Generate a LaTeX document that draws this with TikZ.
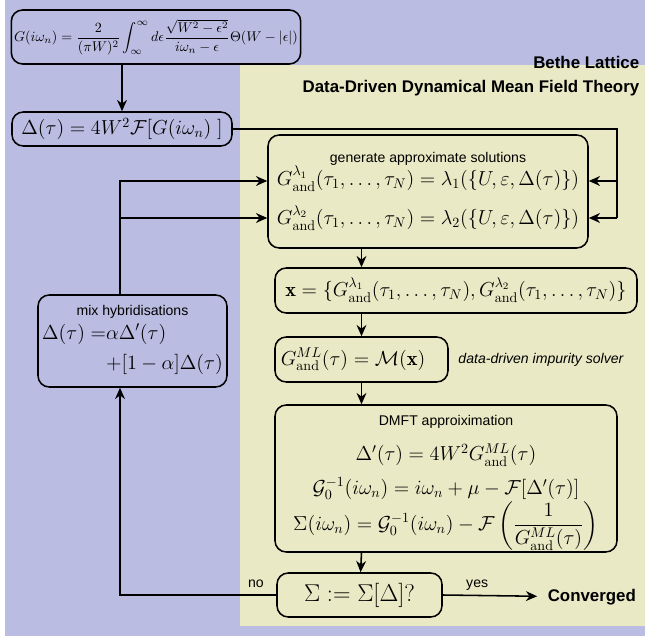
\documentclass[tikz,border=0pt]{standalone}
\usepackage{amsmath}
\usepackage{fontspec}
\setsansfont{Liberation Sans}
\usetikzlibrary{positioning,arrows.meta}
\definecolor{bethebg}{RGB}{186,188,225}
\definecolor{dmftbg}{RGB}{233,233,197}
\newcommand{\boxtitle}[1]{{\normalsize\sffamily #1}}
\newcommand{\Gand}[1]{G^{#1}_{\mathrm{and}}}

\begin{document}
\begin{tikzpicture}[x=0.025cm, y=-0.025cm, line width=1.1pt,
  >={Stealth[length=8pt,width=7pt]},
  stage/.style 2 args={draw, rounded corners=8pt, minimum width={#1*0.025cm},
               minimum height={#2*0.025cm}, align=center, inner sep=2pt, font=\Large},
  tag/.style={font=\sffamily},
  head/.style={font=\sffamily\bfseries\large, inner sep=0pt}
]
  \useasboundingbox (0,0) rectangle (645,642);
  \fill[bethebg] (5,0) rectangle (645,636);
  \fill[dmftbg] (240,65) rectangle (645,626);

  \node[head, anchor=east] (bethe) at (640,62) {Bethe Lattice};
  \node[head, anchor=east] (ddmft) at (640,88) {Data-Driven Dynamical Mean Field Theory};

  \node[stage={288}{54}, font=\fontsize{9.7}{11.6}\selectfont] (gbethe) at (156,37)
    {$G(i\omega_n) = \dfrac{2}{(\pi W)^2}\displaystyle\int_{\infty}^{\infty} d\epsilon
      \frac{\sqrt{W^2-\epsilon^2}}{i\omega_n-\epsilon}\Theta(W-|\epsilon|)$};
  \node[stage={220}{34}] (delta) at (122,129)
    {$\Delta(\tau) = 4W^2\mathcal{F}[G(i\omega_n)\;]$};
  \node[stage={320}{113}] (gen) at (428,191.5)
    {\boxtitle{generate approximate solutions}\\[-2pt]
     $\Gand{\lambda_1}(\tau_1,\dots,\tau_N) = \lambda_1(\{U,\varepsilon,\Delta(\tau)\})$\\[10pt]
     $\Gand{\lambda_2}(\tau_1,\dots,\tau_N) = \lambda_2(\{U,\varepsilon,\Delta(\tau)\})$};
  \node[stage={189}{92}] (mix) at (132.5,341)
    {\boxtitle{mix hybridisations}\\[2pt]
     $\begin{aligned}\Delta(\tau) =&\alpha\Delta'(\tau)\\ &{+}[1-\alpha]\Delta(\tau)\end{aligned}$};
  \node[stage={362}{45}] (xset) at (456,290.5)
    {$\mathbf{x} = \{\Gand{\lambda_1}(\tau_1,\dots,\tau_N), \Gand{\lambda_2}(\tau_1,\dots,\tau_N)\}$};
  \node[stage={173}{45}] (ml) at (361.5,359.5)
    {$\Gand{ML}(\tau) = \mathcal{M}(\mathbf{x})$\hspace{12pt}};
  \node[tag, font=\sffamily\itshape, right=3pt of ml] (solver) {data-driven impurity solver};
  \node[stage={342}{147}, inner ysep=0pt] (dmft) at (446,478.5)
    {\boxtitle{\rule{0pt}{14pt}DMFT approiximation}\\[7pt]
     $\Delta'(\tau) = 4W^2\Gand{ML}(\tau)$\\[6pt]
     $\mathcal{G}_0^{-1}(i\omega_n) = i\omega_n+\mu-\mathcal{F}[\Delta'(\tau)]$\\[0pt]
     $\Sigma(i\omega_n) = \mathcal{G}_0^{-1}(i\omega_n)-\mathcal{F}\left(\dfrac{1}{\Gand{ML}(\tau)}\right)$};
  \node[stage={165}{44}, font=\LARGE] (conv) at (359.5,595) {$\Sigma := \Sigma[\Delta]?$};
  \node[head, anchor=west] (done) at (547,597) {Converged};
  \node[tag, above left=1pt and 5pt of conv.west] (nolbl) {no};

  \coordinate (r1) at (617,181);
  \coordinate (r2) at (617,218);
  \coordinate (f1) at (120,181);
  \coordinate (f2) at (120,218);

  \draw[->] (gbethe.south -| delta) -- (delta);
  \draw (delta.east) -| (r2);
  \draw[->] (r1) -- (gen.east |- r1);
  \draw[->] (r2) -- (gen.east |- r2);
  \draw[->] (mix.north -| f1) -- (f1) -- (gen.west |- f1);
  \draw[->] (f2) -- (gen.west |- f2);
  \draw[->] (gen.south -| ml) -- (xset.north -| ml);
  \draw[->] (xset.south -| ml) -- (ml);
  \draw[->] (ml) -- (dmft.north -| ml);
  \draw[->] (dmft.south -| ml) -- (conv);
  \draw[->] (conv.west) -| (mix.south -| f1);
  \draw[->, shorten >=7pt] (conv.east) -- node[tag, above, pos=0.33] (yeslbl) {yes} (done);
\end{tikzpicture}
\end{document}
